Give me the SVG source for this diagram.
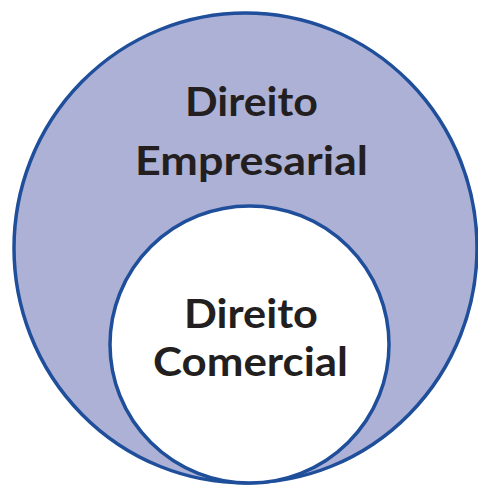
<svg xmlns="http://www.w3.org/2000/svg" width="478" height="485" viewBox="0 0 478 485">
<style>
.ring{stroke:#1f4e9a;stroke-width:3.5}
.lbl{font-family:Lato,"Open Sans","Liberation Sans",sans-serif;font-weight:bold;font-size:40px;fill:#231f20;text-anchor:middle}
</style>
<rect width="478" height="485" fill="#ffffff"/>
<g id="empresarial">
<ellipse class="ring" cx="245.5" cy="248" rx="231.5" ry="235" fill="#adb1d6"/>
<text class="lbl" x="251.5" y="116" textLength="133" lengthAdjust="spacingAndGlyphs">Direito</text>
<text class="lbl" x="251.5" y="175" textLength="233" lengthAdjust="spacingAndGlyphs">Empresarial</text>
</g>
<g id="comercial">
<ellipse class="ring" cx="249.5" cy="344.5" rx="139.5" ry="138.5" fill="#ffffff"/>
<text class="lbl" x="251" y="328" textLength="134" lengthAdjust="spacingAndGlyphs">Direito</text>
<text class="lbl" x="250.5" y="376" textLength="195" lengthAdjust="spacingAndGlyphs">Comercial</text>
</g>
<g id="connectors"/>
</svg>
